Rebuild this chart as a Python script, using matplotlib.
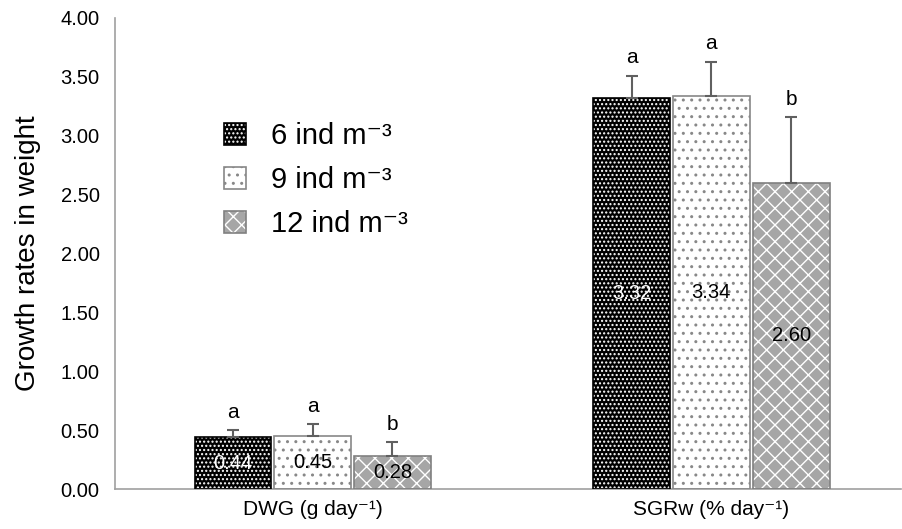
import numpy as np
import matplotlib.pyplot as plt

plt.rcParams['font.family'] = ['Liberation Sans', 'DejaVu Sans']

groups = ['DWG (g day⁻¹)', 'SGRw (% day⁻¹)']
densities = ['6 ind m⁻³', '9 ind m⁻³', '12 ind m⁻³']
means = [[0.44, 3.32], [0.45, 3.34], [0.28, 2.60]]
upper_err = [[0.06, 0.19], [0.10, 0.29], [0.12, 0.56]]
letters = [['a', 'a'], ['a', 'a'], ['b', 'b']]
value_labels = [['0.44', '3.32'], ['0.45', '3.34'], ['0.28', '2.60']]
yticks = [0.0, 0.5, 1.0, 1.5, 2.0, 2.5, 3.0, 3.5, 4.0]

# face, hatch colour, hatch, outline, label colour
styles = [
    ('black', 'white', '....', 'black', 'white'),
    ('white', '#888888', '..', '#888888', 'black'),
    ('#a6a6a6', 'white', 'xx', '#808080', 'black'),
]

fig = plt.figure(figsize=(9.02, 5.29), dpi=100)
ax = fig.add_axes([0.1275, 0.0756, 0.8715, 0.8904])

x = np.arange(len(groups))
w = 0.193
step = 0.2
handles = []
for i, (face, hcol, hatch, edge, tcol) in enumerate(styles):
    pos = x + (i - 1) * step
    ax.bar(pos, means[i], w, color=face, edgecolor=hcol, hatch=hatch, linewidth=0, zorder=2)
    ax.bar(pos, means[i], w, fill=False, edgecolor=edge, linewidth=1.2, zorder=3)
    ax.errorbar(pos, means[i], yerr=[[0, 0], upper_err[i]], fmt='none', ecolor='#606060',
                elinewidth=1.5, capsize=4, capthick=1.5, zorder=4)
    for j in range(len(groups)):
        top = means[i][j] + upper_err[i][j]
        ax.text(pos[j], top + 0.07, letters[i][j], ha='center', va='bottom', fontsize=15)
        ax.text(pos[j], means[i][j] / 2, value_labels[i][j], ha='center', va='center',
                fontsize=14.5, color=tcol, zorder=5)
    hp = plt.Rectangle((0, 0), 1, 1, facecolor=face, edgecolor=hcol, hatch=hatch, linewidth=0)
    handles.append((hp, plt.Rectangle((0, 0), 1, 1, fill=False, edgecolor=edge, linewidth=1.2)))

ax.set_xlim(-0.496, 1.476)
ax.set_ylim(0, 4.0)
ax.set_yticks(yticks)
ax.set_yticklabels(['%.2f' % t for t in yticks], fontsize=14.5)
ax.set_xticks(x)
ax.set_xticklabels(groups, fontsize=15)
ax.tick_params(axis='y', length=0, pad=11)
ax.tick_params(axis='x', length=0, pad=8)
ax.set_ylabel('Growth rates in weight', fontsize=20, labelpad=14)

for s in ['top', 'right']:
    ax.spines[s].set_visible(False)
for s in ['left', 'bottom']:
    ax.spines[s].set_color('#a0a0a0')
    ax.spines[s].set_linewidth(1.2)

ax.legend(handles, densities, loc='upper left', bbox_to_anchor=(0.105, 0.835), frameon=False,
          fontsize=21, handlelength=0.76, handleheight=0.76, handletextpad=0.86, labelspacing=0.55)

fig.savefig('out.png', dpi=100)
